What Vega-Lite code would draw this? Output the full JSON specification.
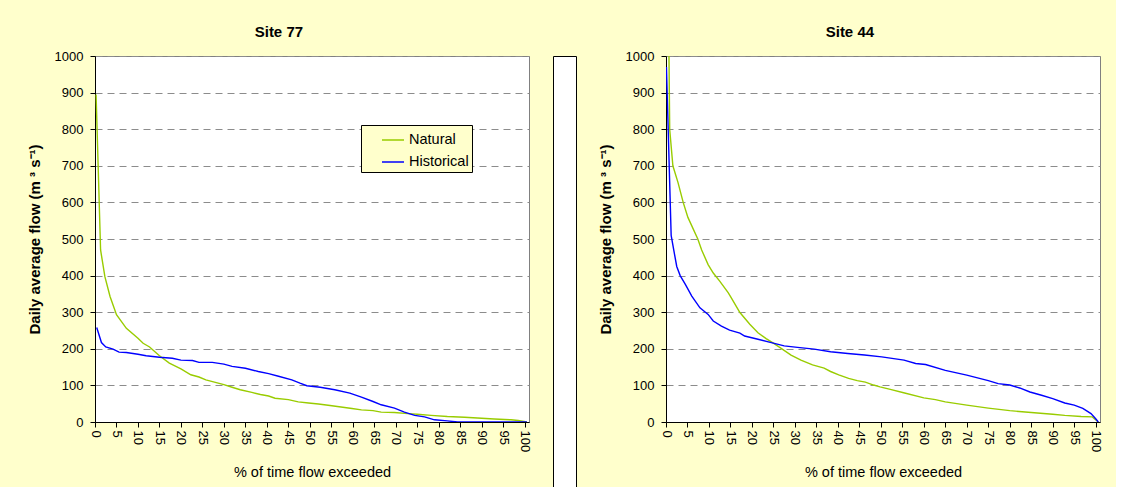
{
  "$schema": "https://vega.github.io/schema/vega-lite/v6.json",
  "background": "#FFFFCC",
  "padding": {"left": 26, "top": 0, "right": 13, "bottom": 0},
  "spacing": 20,
  "datasets": {
    "site77": [
      {"series": "Natural", "pct": 0.25, "flow": 895},
      {"series": "Natural", "pct": 1.3, "flow": 470},
      {"series": "Natural", "pct": 2.3, "flow": 397},
      {"series": "Natural", "pct": 3.5, "flow": 343},
      {"series": "Natural", "pct": 5, "flow": 293},
      {"series": "Natural", "pct": 7.3, "flow": 256},
      {"series": "Natural", "pct": 10, "flow": 229},
      {"series": "Natural", "pct": 11.2, "flow": 215},
      {"series": "Natural", "pct": 12.7, "flow": 205},
      {"series": "Natural", "pct": 15, "flow": 181},
      {"series": "Natural", "pct": 17.3, "flow": 161},
      {"series": "Natural", "pct": 20, "flow": 145},
      {"series": "Natural", "pct": 22.3, "flow": 129},
      {"series": "Natural", "pct": 24.2, "flow": 123},
      {"series": "Natural", "pct": 25.8, "flow": 115},
      {"series": "Natural", "pct": 30, "flow": 102},
      {"series": "Natural", "pct": 31.9, "flow": 95},
      {"series": "Natural", "pct": 33.8, "flow": 88},
      {"series": "Natural", "pct": 36.5, "flow": 81},
      {"series": "Natural", "pct": 38.5, "flow": 75},
      {"series": "Natural", "pct": 40.4, "flow": 71},
      {"series": "Natural", "pct": 41.9, "flow": 65},
      {"series": "Natural", "pct": 45, "flow": 61},
      {"series": "Natural", "pct": 47.3, "flow": 55},
      {"series": "Natural", "pct": 49.7, "flow": 52},
      {"series": "Natural", "pct": 52, "flow": 49},
      {"series": "Natural", "pct": 54.7, "flow": 45},
      {"series": "Natural", "pct": 59.8, "flow": 37},
      {"series": "Natural", "pct": 62, "flow": 33},
      {"series": "Natural", "pct": 64.7, "flow": 31},
      {"series": "Natural", "pct": 66.6, "flow": 27},
      {"series": "Natural", "pct": 69.7, "flow": 26},
      {"series": "Natural", "pct": 72.8, "flow": 23},
      {"series": "Natural", "pct": 75, "flow": 21},
      {"series": "Natural", "pct": 78.2, "flow": 18},
      {"series": "Natural", "pct": 82, "flow": 15},
      {"series": "Natural", "pct": 86, "flow": 13},
      {"series": "Natural", "pct": 89, "flow": 11},
      {"series": "Natural", "pct": 92.9, "flow": 8},
      {"series": "Natural", "pct": 96.8, "flow": 6},
      {"series": "Natural", "pct": 98.5, "flow": 4},
      {"series": "Natural", "pct": 100.5, "flow": 0},
      {"series": "Historical", "pct": 0.4, "flow": 258},
      {"series": "Historical", "pct": 1.5, "flow": 217},
      {"series": "Historical", "pct": 2.5, "flow": 205},
      {"series": "Historical", "pct": 4.2, "flow": 199},
      {"series": "Historical", "pct": 5.6, "flow": 191},
      {"series": "Historical", "pct": 7.3, "flow": 190},
      {"series": "Historical", "pct": 10, "flow": 185},
      {"series": "Historical", "pct": 11.9, "flow": 181},
      {"series": "Historical", "pct": 15, "flow": 177},
      {"series": "Historical", "pct": 18, "flow": 174},
      {"series": "Historical", "pct": 20, "flow": 169},
      {"series": "Historical", "pct": 22.7, "flow": 168},
      {"series": "Historical", "pct": 24.2, "flow": 163},
      {"series": "Historical", "pct": 27.3, "flow": 163},
      {"series": "Historical", "pct": 30, "flow": 158},
      {"series": "Historical", "pct": 31.9, "flow": 152},
      {"series": "Historical", "pct": 35, "flow": 147},
      {"series": "Historical", "pct": 38, "flow": 138},
      {"series": "Historical", "pct": 40.4, "flow": 132},
      {"series": "Historical", "pct": 42.7, "flow": 125},
      {"series": "Historical", "pct": 45.8, "flow": 115},
      {"series": "Historical", "pct": 47.7, "flow": 106},
      {"series": "Historical", "pct": 49.3, "flow": 99},
      {"series": "Historical", "pct": 52.4, "flow": 95},
      {"series": "Historical", "pct": 55.8, "flow": 88},
      {"series": "Historical", "pct": 59.3, "flow": 79},
      {"series": "Historical", "pct": 62, "flow": 68},
      {"series": "Historical", "pct": 64.7, "flow": 56},
      {"series": "Historical", "pct": 66.6, "flow": 47},
      {"series": "Historical", "pct": 69.7, "flow": 38},
      {"series": "Historical", "pct": 72, "flow": 27},
      {"series": "Historical", "pct": 74.4, "flow": 18},
      {"series": "Historical", "pct": 76.7, "flow": 14},
      {"series": "Historical", "pct": 79, "flow": 6},
      {"series": "Historical", "pct": 82, "flow": 3},
      {"series": "Historical", "pct": 84.4, "flow": 0},
      {"series": "Historical", "pct": 100.5, "flow": 0}
    ],
    "site44": [
      {"series": "Natural", "pct": 0.65, "flow": 1050},
      {"series": "Natural", "pct": 0.86, "flow": 800},
      {"series": "Natural", "pct": 1.6, "flow": 700},
      {"series": "Natural", "pct": 2.8, "flow": 654},
      {"series": "Natural", "pct": 4, "flow": 600},
      {"series": "Natural", "pct": 5.1, "flow": 559},
      {"series": "Natural", "pct": 7.4, "flow": 500},
      {"series": "Natural", "pct": 8.3, "flow": 470},
      {"series": "Natural", "pct": 9.8, "flow": 430},
      {"series": "Natural", "pct": 11, "flow": 407},
      {"series": "Natural", "pct": 12.5, "flow": 385},
      {"series": "Natural", "pct": 14.5, "flow": 353},
      {"series": "Natural", "pct": 15.2, "flow": 339},
      {"series": "Natural", "pct": 17.2, "flow": 299},
      {"series": "Natural", "pct": 19.5, "flow": 267},
      {"series": "Natural", "pct": 21.4, "flow": 244},
      {"series": "Natural", "pct": 23.3, "flow": 228},
      {"series": "Natural", "pct": 24.8, "flow": 217},
      {"series": "Natural", "pct": 26.8, "flow": 201},
      {"series": "Natural", "pct": 29.1, "flow": 183},
      {"series": "Natural", "pct": 31.4, "flow": 169},
      {"series": "Natural", "pct": 34.1, "flow": 156},
      {"series": "Natural", "pct": 36.8, "flow": 147},
      {"series": "Natural", "pct": 38.3, "flow": 138},
      {"series": "Natural", "pct": 40.2, "flow": 129},
      {"series": "Natural", "pct": 42.5, "flow": 119},
      {"series": "Natural", "pct": 44.5, "flow": 113},
      {"series": "Natural", "pct": 46.4, "flow": 109},
      {"series": "Natural", "pct": 48.3, "flow": 101},
      {"series": "Natural", "pct": 49.8, "flow": 96},
      {"series": "Natural", "pct": 52.2, "flow": 89},
      {"series": "Natural", "pct": 55.3, "flow": 80},
      {"series": "Natural", "pct": 60, "flow": 66},
      {"series": "Natural", "pct": 62.7, "flow": 61},
      {"series": "Natural", "pct": 65, "flow": 55},
      {"series": "Natural", "pct": 70, "flow": 46},
      {"series": "Natural", "pct": 75, "flow": 38},
      {"series": "Natural", "pct": 80, "flow": 31},
      {"series": "Natural", "pct": 85, "flow": 26},
      {"series": "Natural", "pct": 90, "flow": 21},
      {"series": "Natural", "pct": 92.8, "flow": 18},
      {"series": "Natural", "pct": 96.6, "flow": 15},
      {"series": "Natural", "pct": 99.2, "flow": 14},
      {"series": "Natural", "pct": 100.6, "flow": 0},
      {"series": "Historical", "pct": 0.1, "flow": 970},
      {"series": "Historical", "pct": 1.2, "flow": 510},
      {"series": "Historical", "pct": 1.8, "flow": 470},
      {"series": "Historical", "pct": 2.5, "flow": 425},
      {"series": "Historical", "pct": 3.3, "flow": 400},
      {"series": "Historical", "pct": 4.5, "flow": 376},
      {"series": "Historical", "pct": 6, "flow": 344},
      {"series": "Historical", "pct": 7.9, "flow": 312},
      {"series": "Historical", "pct": 9.8, "flow": 294},
      {"series": "Historical", "pct": 11, "flow": 276},
      {"series": "Historical", "pct": 12.9, "flow": 262},
      {"series": "Historical", "pct": 14.8, "flow": 251},
      {"series": "Historical", "pct": 17.2, "flow": 243},
      {"series": "Historical", "pct": 18.3, "flow": 235},
      {"series": "Historical", "pct": 21.4, "flow": 226},
      {"series": "Historical", "pct": 24.5, "flow": 217},
      {"series": "Historical", "pct": 27.5, "flow": 208},
      {"series": "Historical", "pct": 30.6, "flow": 204},
      {"series": "Historical", "pct": 34.5, "flow": 199},
      {"series": "Historical", "pct": 38.3, "flow": 192},
      {"series": "Historical", "pct": 42.3, "flow": 187},
      {"series": "Historical", "pct": 46.2, "flow": 183},
      {"series": "Historical", "pct": 50.2, "flow": 178},
      {"series": "Historical", "pct": 55.4, "flow": 169},
      {"series": "Historical", "pct": 58.1, "flow": 160},
      {"series": "Historical", "pct": 60.4, "flow": 157},
      {"series": "Historical", "pct": 65, "flow": 141},
      {"series": "Historical", "pct": 70, "flow": 128},
      {"series": "Historical", "pct": 75, "flow": 113},
      {"series": "Historical", "pct": 77.3, "flow": 105},
      {"series": "Historical", "pct": 80, "flow": 101},
      {"series": "Historical", "pct": 82.3, "flow": 93},
      {"series": "Historical", "pct": 84.7, "flow": 82},
      {"series": "Historical", "pct": 87.4, "flow": 73},
      {"series": "Historical", "pct": 90, "flow": 64},
      {"series": "Historical", "pct": 92.8, "flow": 52},
      {"series": "Historical", "pct": 95, "flow": 46},
      {"series": "Historical", "pct": 97, "flow": 37},
      {"series": "Historical", "pct": 98.9, "flow": 23},
      {"series": "Historical", "pct": 100, "flow": 9},
      {"series": "Historical", "pct": 100.6, "flow": 0}
    ],
    "blank": [{"k": 1}]
  },
  "config": {
    "font": "Liberation Sans",
    "view": {"fill": "white", "stroke": "#808080", "strokeWidth": 1},
    "title": {"fontSize": 15, "fontWeight": "bold", "color": "black", "anchor": "middle", "frame": "bounds", "lineHeight": 24, "offset": 10},
    "axis": {"labelColor": "black", "titleColor": "black", "domainColor": "black", "tickColor": "black", "tickSize": 5, "labelFontSize": 13, "titleFontSize": 14.5, "labelFont": "Liberation Sans", "titleFont": "Liberation Sans"},
    "legend": {"orient": "none", "title": null, "strokeColor": "black", "fillColor": "#FFFFCC", "padding": 3, "labelFontSize": 14.5, "labelColor": "black", "symbolType": "stroke", "symbolSize": 484, "symbolStrokeWidth": 1.5, "rowPadding": 3, "labelOffset": 4}
  },
  "hconcat": [
    {
      "width": 434,
      "height": 366,
      "title": {"text": ["", "Site 77"]},
      "data": {"name": "site77"},
      "mark": {"type": "line", "strokeWidth": 1.4, "clip": true},
      "encoding": {
        "x": {"field": "pct", "type": "quantitative", "scale": {"domain": [0, 101], "nice": false, "zero": false},
          "axis": {"title": "% of time flow exceeded", "values": [0,5,10,15,20,25,30,35,40,45,50,55,60,65,70,75,80,85,90,95,100], "labelAngle": 90, "labelPadding": 3, "titlePadding": 14, "titleFontWeight": "normal", "grid": false}},
        "y": {"field": "flow", "type": "quantitative", "scale": {"domain": [0, 1000], "nice": false},
          "axis": {"title": "Daily average flow (m ³ s⁻¹)", "format": "d", "titleFontSize": 15, "values": [0,100,200,300,400,500,600,700,800,900,1000], "labelPadding": 7, "titlePadding": 12, "titleFontWeight": "bold", "grid": true, "gridColor": "#8c8c8c", "gridDash": [7, 5], "gridWidth": 1}},
        "color": {"field": "series", "type": "nominal", "sort": ["Natural", "Historical"],
          "scale": {"domain": ["Natural", "Historical"], "range": ["#99CC00", "#0000FF"]},
          "legend": {"legendX": 266, "legendY": 69, "symbolOffset": 17, "labelOffset": 4}}
      }
    },
    {
      "width": 23,
      "height": 500,
      "view": {"fill": "white", "stroke": "black"},
      "data": {"name": "blank"},
      "mark": {"type": "point", "opacity": 0},
      "encoding": {}
    },
    {
      "width": 434,
      "height": 366,
      "title": {"text": ["", "Site 44"]},
      "data": {"name": "site44"},
      "mark": {"type": "line", "strokeWidth": 1.4, "clip": true},
      "encoding": {
        "x": {"field": "pct", "type": "quantitative", "scale": {"domain": [0, 101], "nice": false, "zero": false},
          "axis": {"title": "% of time flow exceeded", "values": [0,5,10,15,20,25,30,35,40,45,50,55,60,65,70,75,80,85,90,95,100], "labelAngle": 90, "labelPadding": 3, "titlePadding": 14, "titleFontWeight": "normal", "grid": false}},
        "y": {"field": "flow", "type": "quantitative", "scale": {"domain": [0, 1000], "nice": false},
          "axis": {"title": "Daily average flow (m ³ s⁻¹)", "format": "d", "titleFontSize": 15, "values": [0,100,200,300,400,500,600,700,800,900,1000], "labelPadding": 7, "titlePadding": 12, "titleFontWeight": "bold", "grid": true, "gridColor": "#8c8c8c", "gridDash": [7, 5], "gridWidth": 1}},
        "color": {"field": "series", "type": "nominal", "sort": ["Natural", "Historical"],
          "scale": {"domain": ["Natural", "Historical"], "range": ["#99CC00", "#0000FF"]},
          "legend": {"legendX": 259, "legendY": 35, "symbolOffset": 12, "labelOffset": 4}}
      }
    }
  ]
}
